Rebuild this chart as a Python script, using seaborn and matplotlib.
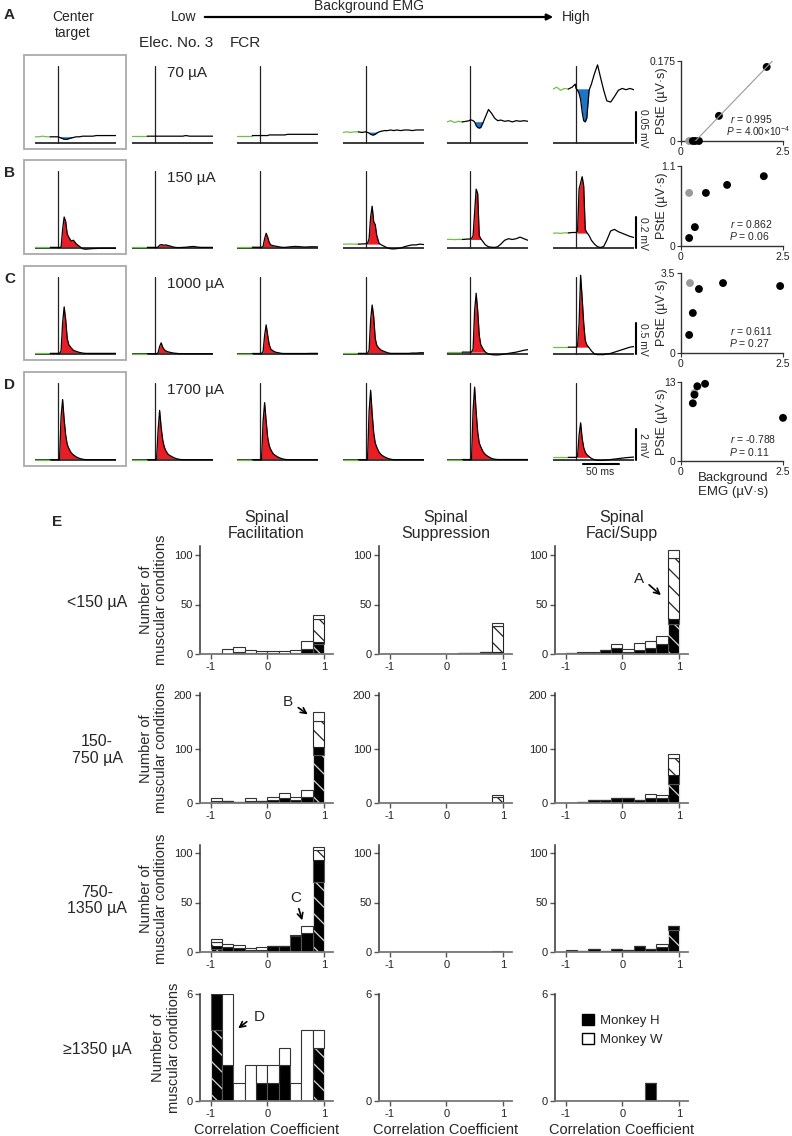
import numpy as np
import pandas as pd
import matplotlib
matplotlib.use("Agg")
import matplotlib.pyplot as plt
from matplotlib.patches import Rectangle, Patch, FancyArrowPatch
import seaborn as sns

W, H = 792, 1136

# ---------------- trace data (mV), sampled at t_ms ----------------
t_ms = [-30, -25, -20, -15, -10, -5, -1, 0, 2, 4, 6, 8, 10, 12, 14, 17, 20,
        24, 28, 32, 36, 40, 45, 50, 55, 60, 65, 70, 75]

currents = ["70 µA", "150 µA", "1000 µA", "1700 µA"]
scale_mv = [0.05, 0.2, 0.5, 2.0]
scale_labels = ["0.05 mV", "0.2 mV", "0.5 mV", "2 mV"]

trace_A = [
    [0.010, 0.010, 0.011, 0.010, 0.010, 0.010, 0.010, 0.010, 0.009, 0.008, 0.007, 0.006, 0.006, 0.006, 0.007,
     0.008, 0.009, 0.010, 0.010, 0.011, 0.011, 0.011, 0.011, 0.012, 0.012, 0.012, 0.012, 0.012, 0.012],
    [0.011, 0.011, 0.011, 0.011, 0.011, 0.011, 0.011, 0.011, 0.011, 0.011, 0.011, 0.011, 0.011, 0.011, 0.011,
     0.011, 0.011, 0.011, 0.011, 0.011, 0.011, 0.012, 0.011, 0.011, 0.011, 0.011, 0.011, 0.011, 0.011],
    [0.012, 0.012, 0.012, 0.012, 0.012, 0.012, 0.012, 0.012, 0.012, 0.012, 0.012, 0.012, 0.012, 0.013, 0.013,
     0.013, 0.013, 0.013, 0.013, 0.013, 0.014, 0.014, 0.014, 0.014, 0.014, 0.014, 0.014, 0.014, 0.014],
    [0.017, 0.018, 0.017, 0.018, 0.018, 0.017, 0.018, 0.018, 0.017, 0.016, 0.014, 0.013, 0.013, 0.014, 0.016,
     0.018, 0.019, 0.020, 0.020, 0.021, 0.020, 0.021, 0.020, 0.021, 0.021, 0.020, 0.021, 0.021, 0.021],
    [0.034, 0.036, 0.033, 0.035, 0.034, 0.035, 0.036, 0.037, 0.037, 0.036, 0.034, 0.028, 0.025, 0.024, 0.025,
     0.033, 0.042, 0.054, 0.048, 0.040, 0.036, 0.037, 0.035, 0.036, 0.034, 0.036, 0.035, 0.036, 0.035],
    [0.087, 0.090, 0.085, 0.088, 0.087, 0.090, 0.095, 0.088, 0.085, 0.080, 0.070, 0.050, 0.036, 0.034, 0.040,
     0.085, 0.095, 0.112, 0.126, 0.105, 0.085, 0.068, 0.066, 0.075, 0.085, 0.088, 0.086, 0.088, 0.086],
]
trace_B = [
    [0.004, 0.004, 0.004, 0.004, 0.004, 0.004, 0.004, 0.004, 0.004, 0.006, 0.12, 0.20, 0.17, 0.09, 0.07,
     0.045, 0.05, 0.025, 0.01, -0.005, -0.008, -0.006, -0.004, -0.003, -0.002, -0.002, -0.002, -0.002, -0.002],
    [0.004, 0.004, 0.004, 0.004, 0.004, 0.004, 0.004, 0.004, 0.004, 0.006, 0.018, 0.022, 0.020, 0.018, 0.020,
     0.016, 0.012, 0.006, 0.003, 0.003, 0.004, 0.005, 0.008, 0.010, 0.006, 0.004, 0.004, 0.004, 0.004],
    [0.005, 0.005, 0.005, 0.005, 0.005, 0.005, 0.005, 0.005, 0.005, 0.010, 0.060, 0.095, 0.070, 0.035, 0.020,
     0.015, 0.012, 0.008, 0.005, 0.004, 0.006, 0.008, 0.010, 0.009, 0.007, 0.006, 0.008, 0.008, 0.007],
    [0.025, 0.025, 0.026, 0.025, 0.025, 0.026, 0.027, 0.027, 0.030, 0.060, 0.20, 0.27, 0.17, 0.15, 0.08,
     0.03, 0.02, 0.01, 0.0, -0.005, -0.006, -0.004, 0.0, 0.008, 0.015, 0.020, 0.020, 0.025, 0.022],
    [0.055, 0.056, 0.054, 0.056, 0.055, 0.057, 0.058, 0.058, 0.060, 0.080, 0.23, 0.38, 0.35, 0.08, 0.06,
     0.04, 0.02, 0.008, 0.005, 0.004, 0.008, 0.025, 0.05, 0.06, 0.055, 0.06, 0.07, 0.06, 0.05],
    [0.095, 0.097, 0.094, 0.098, 0.097, 0.100, 0.100, 0.100, 0.11, 0.38, 0.42, 0.46, 0.40, 0.12, 0.10,
     0.08, 0.05, 0.025, 0.008, 0.003, 0.01, 0.05, 0.11, 0.12, 0.105, 0.095, 0.085, 0.075, 0.068],
]
trace_C = [
    [0.01, 0.01, 0.01, 0.01, 0.01, 0.01, 0.01, 0.01, 0.01, 0.05, 0.50, 0.76, 0.55, 0.25, 0.15,
     0.10, 0.06, 0.04, 0.025, 0.015, 0.01, 0.01, 0.01, 0.01, 0.01, 0.01, 0.01, 0.01, 0.01],
    [0.005, 0.005, 0.005, 0.005, 0.005, 0.005, 0.005, 0.005, 0.005, 0.02, 0.12, 0.18, 0.11, 0.07, 0.05,
     0.035, 0.025, 0.015, 0.01, 0.005, 0.005, 0.005, 0.005, 0.005, 0.005, 0.005, 0.005, 0.005, 0.005],
    [0.008, 0.008, 0.008, 0.008, 0.008, 0.008, 0.008, 0.008, 0.008, 0.04, 0.30, 0.47, 0.30, 0.15, 0.08,
     0.05, 0.03, 0.02, 0.01, 0.008, 0.008, 0.008, 0.008, 0.008, 0.008, 0.008, 0.01, 0.01, 0.01],
    [0.01, 0.01, 0.01, 0.01, 0.01, 0.01, 0.01, 0.01, 0.01, 0.06, 0.55, 0.79, 0.60, 0.25, 0.14,
     0.09, 0.06, 0.04, 0.02, 0.01, 0.01, 0.01, 0.01, 0.01, 0.01, 0.015, 0.015, 0.02, 0.02],
    [0.03, 0.03, 0.03, 0.03, 0.03, 0.03, 0.03, 0.03, 0.03, 0.08, 0.70, 0.98, 0.70, 0.30, 0.15,
     0.08, 0.03, 0.0, -0.01, -0.015, -0.015, -0.01, 0.0, 0.01, 0.02, 0.03, 0.045, 0.06, 0.07],
    [0.11, 0.11, 0.11, 0.11, 0.11, 0.11, 0.11, 0.11, 0.12, 0.50, 1.27, 0.90, 0.50, 0.22, 0.15,
     0.10, 0.05, 0.0, -0.01, -0.01, -0.01, 0.0, 0.01, 0.03, 0.05, 0.07, 0.09, 0.11, 0.12],
]
trace_D = [
    [0.02, 0.02, 0.02, 0.02, 0.02, 0.02, 0.02, 0.02, 0.05, 2.8, 3.9, 2.6, 1.6, 1.0, 0.75,
     0.47, 0.33, 0.19, 0.1, 0.05, 0.02, 0.02, 0.02, 0.02, 0.02, 0.02, 0.02, 0.02, 0.02],
    [0.02, 0.02, 0.02, 0.02, 0.02, 0.02, 0.02, 0.02, 0.04, 1.9, 3.2, 2.1, 1.3, 0.85, 0.6,
     0.37, 0.27, 0.16, 0.08, 0.04, 0.02, 0.02, 0.02, 0.02, 0.02, 0.02, 0.02, 0.02, 0.02],
    [0.02, 0.02, 0.02, 0.02, 0.02, 0.02, 0.02, 0.02, 0.05, 2.5, 3.7, 2.5, 1.45, 0.92, 0.67,
     0.41, 0.29, 0.17, 0.09, 0.04, 0.02, 0.02, 0.02, 0.02, 0.02, 0.02, 0.02, 0.02, 0.02],
    [0.02, 0.02, 0.02, 0.02, 0.02, 0.02, 0.02, 0.02, 0.05, 3.1, 4.5, 3.0, 1.75, 1.1, 0.82,
     0.5, 0.33, 0.2, 0.11, 0.05, 0.02, 0.02, 0.02, 0.02, 0.02, 0.02, 0.02, 0.02, 0.02],
    [0.03, 0.03, 0.03, 0.03, 0.03, 0.03, 0.03, 0.03, 0.06, 3.2, 4.7, 3.1, 1.8, 1.1, 0.85,
     0.53, 0.35, 0.21, 0.1, 0.05, 0.03, 0.03, 0.03, 0.03, 0.03, 0.03, 0.03, 0.03, 0.03],
    [0.17, 0.17, 0.17, 0.17, 0.17, 0.17, 0.17, 0.17, 0.22, 1.6, 2.4, 1.4, 0.8, 0.5, 0.35,
     0.22, 0.1, 0.02, -0.02, -0.03, -0.02, 0.0, 0.03, 0.06, 0.09, 0.12, 0.15, 0.17, 0.19],
]
traces = [trace_A, trace_B, trace_C, trace_D]

# ---------------- scatter data: background EMG vs PStE ----------------
# first point of each list = center target (gray)
bg_A = [0.20, 0.29, 0.35, 0.44, 0.93, 2.10]
pste_A = [0.0, 0.0, 0.0, 0.0, 0.055, 0.162]
bg_B = [0.20, 0.20, 0.34, 0.61, 1.13, 2.03]
pste_B = [0.73, 0.11, 0.26, 0.73, 0.84, 0.96]
bg_C = [0.22, 0.20, 0.29, 0.44, 1.03, 2.43]
pste_C = [3.06, 0.79, 1.75, 2.80, 3.06, 2.93]
bg_D = [0.33, 0.29, 0.33, 0.40, 0.59, 2.50]
pste_D = [11.2, 9.5, 10.9, 12.3, 12.7, 7.1]
scatter_x = [bg_A, bg_B, bg_C, bg_D]
scatter_y = [pste_A, pste_B, pste_C, pste_D]
scatter_ymax = [0.175, 1.1, 3.5, 13]
scatter_ylabels = ["0.175", "1.1", "3.5", "13"]
r_text = ["0.995", "0.862", "0.611", "-0.788"]
p_text = ["4.00×10$^{-4}$", "0.06", "0.27", "0.11"]
fit_range_A = [0.27, 2.45]

# ---------------- histogram data (counts per 0.2 bin, -1..1) ----------------
# each panel: [Monkey H sig, Monkey H n.s., Monkey W sig, Monkey W n.s.]
bin_edges = [-1.0, -0.8, -0.6, -0.4, -0.2, 0.0, 0.2, 0.4, 0.6, 0.8, 1.0]
fac_lt150 = [[0, 0, 0, 0, 0, 0, 0, 0, 0, 10],
             [0, 0, 2, 1, 1, 1, 0, 1, 5, 2],
             [0, 0, 0, 0, 0, 0, 0, 0, 0, 23],
             [0, 5, 5, 3, 2, 2, 3, 3, 8, 4]]
sup_lt150 = [[0, 0, 0, 0, 0, 0, 0, 0, 0, 0],
             [0, 0, 0, 0, 0, 0, 1, 1, 2, 2],
             [0, 0, 0, 0, 0, 0, 0, 0, 0, 26],
             [0, 0, 0, 0, 0, 0, 0, 0, 0, 3]]
fs_lt150 = [[0, 0, 0, 0, 0, 0, 0, 0, 0, 30],
            [1, 1, 1, 4, 6, 2, 4, 6, 10, 5],
            [0, 0, 0, 0, 0, 0, 0, 0, 0, 62],
            [0, 1, 1, 0, 4, 3, 7, 7, 8, 8]]
fac_150 = [[0, 0, 0, 0, 0, 0, 0, 0, 0, 88],
           [0, 4, 2, 4, 3, 6, 9, 6, 12, 15],
           [4, 0, 0, 0, 0, 0, 0, 0, 0, 49],
           [5, 0, 0, 6, 1, 6, 9, 6, 13, 17]]
sup_150 = [[0, 0, 0, 0, 0, 0, 0, 0, 0, 0],
           [0, 0, 0, 0, 0, 0, 0, 0, 0, 2],
           [0, 0, 0, 0, 0, 0, 0, 0, 0, 9],
           [0, 0, 0, 0, 0, 0, 0, 0, 0, 3]]
fs_150 = [[0, 0, 0, 0, 0, 0, 0, 0, 0, 36],
          [0, 2, 5, 6, 9, 10, 6, 10, 10, 15],
          [0, 0, 0, 0, 0, 0, 0, 0, 0, 33],
          [0, 0, 0, 0, 0, 0, 0, 6, 5, 6]]
fac_750 = [[3, 0, 0, 0, 0, 0, 0, 0, 0, 71],
           [3, 5, 4, 2, 2, 6, 6, 16, 19, 22],
           [4, 0, 0, 0, 0, 0, 0, 0, 0, 10],
           [3, 3, 3, 2, 3, 0, 0, 1, 7, 3]]
sup_750 = [[0, 0, 0, 0, 0, 0, 0, 0, 0, 0],
           [0, 0, 0, 0, 0, 0, 0, 0, 0, 0],
           [0, 0, 0, 0, 0, 0, 0, 0, 0, 0],
           [0, 0, 0, 0, 0, 0, 0, 0, 0, 1]]
fs_750 = [[0, 0, 0, 0, 0, 0, 0, 0, 0, 22],
          [0, 1, 3, 1, 3, 2, 6, 3, 5, 4],
          [1, 0, 0, 0, 0, 0, 0, 0, 0, 0],
          [1, 0, 0, 0, 0, 0, 0, 0, 3, 0]]
fac_1350 = [[4, 0, 0, 0, 0, 0, 0, 0, 0, 3],
            [2, 2, 0, 0, 1, 1, 2, 0, 0, 0],
            [0, 0, 0, 0, 0, 0, 0, 0, 0, 0],
            [0, 4, 1, 2, 1, 1, 1, 1, 4, 1]]
sup_1350 = [[0] * 10, [0] * 10, [0] * 10, [0] * 10]
fs_1350 = [[0, 0, 0, 0, 0, 0, 0, 0, 0, 0],
           [0, 0, 0, 0, 0, 0, 0, 1, 0, 0],
           [0, 0, 0, 0, 0, 0, 0, 0, 0, 0],
           [0, 0, 0, 0, 0, 0, 0, 0, 0, 0]]
hist_panels = [[fac_lt150, sup_lt150, fs_lt150],
               [fac_150, sup_150, fs_150],
               [fac_750, sup_750, fs_750],
               [fac_1350, sup_1350, fs_1350]]
groups = ["H_sig", "H_ns", "W_sig", "W_ns"]
row_labels = ["<150 µA", "150-\n750 µA", "750-\n1350 µA", "≥1350 µA"]
col_titles = ["Spinal\nFacilitation", "Spinal\nSuppression", "Spinal\nFaci/Supp"]
hist_yticks = [[0, 50, 100], [0, 100, 200], [0, 50, 100], [0, 6]]
hist_ylim = [109, 203, 108, 6]

# ---------------- style ----------------
sns.set_theme(style="ticks")
plt.rcParams['font.family'] = ['Liberation Sans', 'DejaVu Sans']
plt.rcParams['mathtext.fontset'] = 'custom'
plt.rcParams['mathtext.it'] = 'Liberation Sans:italic'
plt.rcParams['mathtext.rm'] = 'Liberation Sans'
plt.rcParams['hatch.linewidth'] = 0.9

GREEN, RED, BLUE = "#72c043", "#ec1c24", "#1f74c6"


def rect(x0, y0, x1, y1):
    return [x0 / W, 1 - y1 / H, (x1 - x0) / W, (y1 - y0) / H]


def fx(x):
    return x / W


def fy(y):
    return 1 - y / H


fig = plt.figure(figsize=(W / 100, H / 100), dpi=100)

# ---------------- header ----------------
fig.text(fx(4), fy(15), "A", fontsize=11, fontweight="bold", va="center")
fig.text(fx(73), fy(25), "Center\ntarget", fontsize=10, ha="center", va="center", linespacing=1.2)
fig.text(fx(184), fy(17), "Low", fontsize=10, ha="center", va="center")
fig.text(fx(576), fy(17), "High", fontsize=10, ha="center", va="center")
fig.text(fx(369), fy(6), "Background EMG", fontsize=10, ha="center", va="center")
fig.add_artist(FancyArrowPatch((fx(202), fy(17)), (fx(556), fy(17)), transform=fig.transFigure,
                               arrowstyle="-|>", mutation_scale=9, lw=1.6, color="black"))
fig.text(fx(139), fy(43), "Elec. No. 3", fontsize=11, va="center")
fig.text(fx(230), fy(43), "FCR", fontsize=11, va="center")

# ---------------- trace rows A-D ----------------
t = np.array(t_ms, dtype=float)
baselines = [143, 248, 354, 460]
stim_px = [58, 155, 260, 366, 470, 576]
px_per_ms = 0.77
sc_top = [61, 166, 273, 382]
sc_bot = [141, 246, 353, 461]
fill_end = [18, 28, 30, 32]

for r in range(4):
    b = baselines[r]
    s = scale_mv[r]
    mv_per_px = s / 31.0
    if r > 0:
        fig.text(fx(4), fy(b - 75), "ABCD"[r], fontsize=11, fontweight="bold", va="center")
    fig.patches.append(Rectangle((fx(24), fy(b + 6)), (126 - 24) / W, 94 / H, transform=fig.transFigure,
                                 fill=False, ec="#aaaaaa", lw=1.3))
    for c in range(6):
        v = stim_px[c]
        ax = fig.add_axes(rect(v - 30 * px_per_ms, b - 85, v + 75 * px_per_ms, b + 4))
        ax.set_xlim(-30, 75)
        ax.set_ylim(-4 * mv_per_px, 85 * mv_per_px)
        ax.axis("off")
        y = np.array(traces[r][c], dtype=float)
        base = y[t <= -10].mean()
        ax.plot([-30, 75], [0, 0], color="#3a3a3a", lw=1.4, solid_capstyle="butt")
        ax.plot([0, 0], [0, 77 * mv_per_px], color="#222222", lw=0.9)
        pre = t <= -10
        ax.plot(t[pre], y[pre], color=GREEN, lw=0.9)
        ax.plot(t[t >= -10], y[t >= -10], color="black", lw=0.9)
        win = (t >= 2) & (t <= fill_end[r])
        if r == 0:
            ax.fill_between(t, y, base, where=win & (y < base), interpolate=True, color=BLUE, lw=0)
        else:
            ax.fill_between(t, y, base, where=win & (y > base), interpolate=True, color=RED, lw=0)
    fig.text(fx(167), fy(b - 70), currents[r], fontsize=11, va="center")
    # amplitude scale bar
    fig.add_artist(plt.Line2D([fx(636), fx(636)], [fy(b - 31), fy(b)], color="black", lw=1.5))
    fig.text(fx(643), fy(b - 15), scale_labels[r], fontsize=7.5, rotation=270, ha="center", va="center")

    # scatter of PStE vs background EMG
    sax = fig.add_axes(rect(681, sc_top[r], 783, sc_bot[r]))
    kind = ["center"] + ["bg"] * (len(scatter_x[r]) - 1)
    sdf = pd.DataFrame({"bg": scatter_x[r], "pste": scatter_y[r], "kind": kind})
    sns.scatterplot(data=sdf, x="bg", y="pste", hue="kind", palette={"center": "#9a9a9a", "bg": "black"},
                    s=32, linewidth=0, legend=False, clip_on=False, zorder=3, ax=sax)
    if r == 0:
        xs = np.array(scatter_x[r][1:])
        coef = np.polyfit(xs, np.array(scatter_y[r][1:]), 1)
        fx_line = np.array(fit_range_A)
        sax.plot(fx_line, np.polyval(coef, fx_line), color="#9a9a9a", lw=0.8, zorder=4)
    sax.set_xlim(0, 2.5)
    sax.set_ylim(0, scatter_ymax[r])
    sax.set_xticks([0, 2.5])
    sax.set_xticklabels(["0", "2.5"])
    sax.set_yticks([0, scatter_ymax[r]])
    sax.set_yticklabels(["0", scatter_ylabels[r]])
    sax.set_xlabel("")
    sax.set_ylabel("PStE (µV·s)", fontsize=9, labelpad=1)
    sax.yaxis.set_label_coords(-0.125, 0.5)
    sax.tick_params(labelsize=7.5, length=3, width=0.8, pad=1, colors="#333333", labelcolor="#222222")
    sax.set_facecolor("none")
    for sp in ["top", "right"]:
        sax.spines[sp].set_visible(False)
    for sp in ["left", "bottom"]:
        sax.spines[sp].set_color("#333333")
        sax.spines[sp].set_linewidth(1.0)
    p_x = 0.44 if r == 0 else 0.47
    p_size = 7.2 if r == 0 else 7.5
    sax.text(0.48, 0.28, "$\\it{r}$ = " + r_text[r], transform=sax.transAxes, fontsize=7.5, va="center")
    sax.text(p_x, 0.12, "$\\it{P}$ = " + p_text[r], transform=sax.transAxes, fontsize=p_size, va="center")

# time scale bar
fig.add_artist(plt.Line2D([fx(583), fx(619)], [fy(464), fy(464)], color="black", lw=1.5))
fig.text(fx(600), fy(472), "50 ms", fontsize=7.5, ha="center", va="center")
fig.text(fx(733), fy(485), "Background\nEMG (µV·s)", fontsize=9.5, ha="center", va="center", linespacing=1.25)

# ---------------- panel E: histograms ----------------
fig.text(fx(52), fy(522), "E", fontsize=11, fontweight="bold", va="center")
hist_x = [(200, 333), (379, 512), (555, 688)]
hist_zero = [654, 803, 952, 1101]
hist_px = [99 / 100, 108 / 200, 99 / 100, 107 / 6]
centers = [(bin_edges[i] + bin_edges[i + 1]) / 2 for i in range(10)]
styles = {"H_sig": ("black", "#d8d8d8", "\\\\"), "H_ns": ("black", "#555555", ""),
          "W_sig": ("white", "#222222", "\\\\"), "W_ns": ("white", "#333333", "")}

for r in range(4):
    y0 = hist_zero[r] - hist_ylim[r] * hist_px[r]
    for c in range(3):
        x0, x1 = hist_x[c]
        ax = fig.add_axes(rect(x0, y0, x1, hist_zero[r]))
        counts = hist_panels[r][c]
        rows = []
        for g, vals in zip(groups, counts):
            for ctr, n in zip(centers, vals):
                rows.append({"corr": ctr, "n": n, "group": g})
        hdf = pd.DataFrame(rows)
        if hdf["n"].sum() > 0:
            sns.histplot(data=hdf, x="corr", weights="n", hue="group", hue_order=groups[::-1],
                         multiple="stack", bins=bin_edges, legend=False, ax=ax)
            # seaborn stacks the last hue level at the bottom
            for cont, g in zip(ax.containers, groups):
                fc, ec, hatch = styles[g]
                for p in cont.patches:
                    p.set_alpha(1)
                    p.set_facecolor(fc)
                    p.set_edgecolor(ec)
                    p.set_linewidth(0.8)
                    p.set_hatch(hatch)
        ax.set_xlim(-1.19, 1.16)
        ax.set_ylim(0, hist_ylim[r])
        ax.set_xticks([-1, 0, 1])
        ax.set_xticklabels(["-1", "0", "1"])
        ax.set_yticks(hist_yticks[r])
        ax.set_ylabel("")
        ax.set_xlabel("")
        ax.set_facecolor("none")
        for sp in ["top", "right"]:
            ax.spines[sp].set_visible(False)
        ax.spines["left"].set_color("#333333")
        ax.spines["bottom"].set_color("#777777")
        ax.spines["left"].set_linewidth(1.1)
        ax.spines["bottom"].set_linewidth(1.3)
        ax.tick_params(labelsize=8, length=3.5, width=1, pad=2, colors="#555555", labelcolor="#222222")
        if c == 0:
            ax.set_ylabel("Number of\nmuscular conditions", fontsize=10.5, labelpad=4, linespacing=1.1)
        if r == 0:
            ax.set_title(col_titles[c], fontsize=11.5, pad=6, linespacing=1.1)
        if r == 3:
            ax.set_xlabel("Correlation Coefficient", fontsize=10.5, labelpad=3)
        if r == 3 and c == 2:
            ax.legend(handles=[Patch(fc="black", ec="black"), Patch(fc="white", ec="black")],
                      labels=["Monkey H", "Monkey W"], loc="upper left",
                      bbox_to_anchor=(fx(582), fy(1014)), bbox_transform=fig.transFigure,
                      frameon=False, handlelength=0.9, handleheight=0.9, handletextpad=0.5,
                      fontsize=9.5, borderaxespad=0, borderpad=0, labelspacing=0.45)
    fig.text(fx(97), fy((y0 + hist_zero[r]) / 2 + 2), row_labels[r], fontsize=11.5, ha="center",
             va="center", linespacing=1.15)

# arrows marking the example conditions
for label, txy, tip in [("A", (639, 579), (663, 597)), ("B", (288, 702), (310, 716)),
                        ("C", (296, 898), (303, 923)), ("D", (259, 1017), (236, 1030))]:
    start = (txy[0] + 8, txy[1] + 4) if label != "D" else (txy[0] - 10, txy[1] + 3)
    if label == "C":
        start = (txy[0] + 2, txy[1] + 8)
    fig.text(fx(txy[0]), fy(txy[1]), label, fontsize=11, ha="center", va="center")
    fig.add_artist(FancyArrowPatch((fx(start[0]), fy(start[1])), (fx(tip[0]), fy(tip[1])),
                                   transform=fig.transFigure, arrowstyle="->", mutation_scale=10,
                                   lw=1.2, color="black"))

fig.savefig("out.png", dpi=100)
